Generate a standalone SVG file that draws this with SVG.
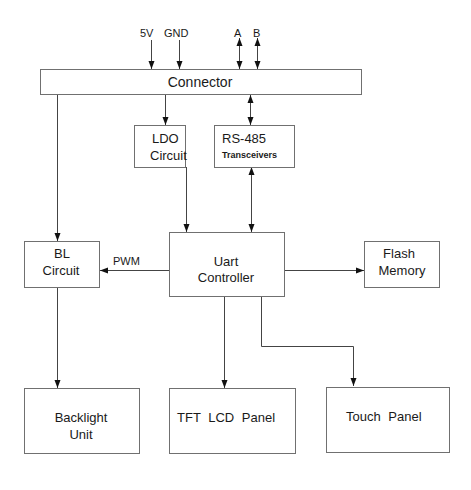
<svg xmlns="http://www.w3.org/2000/svg" width="471" height="490" viewBox="0 0 471 490">
<style>
.box{fill:#fff;stroke:#707070;stroke-width:1}
.ln{fill:none;stroke:#444;stroke-width:1}
text{font-family:"Liberation Sans",Arial,sans-serif;font-size:13px;fill:#1a1a1a}
.c{text-anchor:middle}
.sm{font-size:11px}
.b{font-size:9px;font-weight:bold}
</style>
<defs>
<marker id="ah" viewBox="0 0 8 8" refX="8" refY="4" markerWidth="8" markerHeight="8" markerUnits="userSpaceOnUse" orient="auto-start-reverse">
<path d="M0,1 L8,4 L0,7 Z" fill="#111"/>
</marker>
</defs>
<rect width="471" height="490" fill="#fff"/>
<g id="connectors">
<line class="ln" x1="151.5" y1="40" x2="151.5" y2="69" marker-end="url(#ah)"/>
<line class="ln" x1="179.5" y1="40" x2="179.5" y2="69" marker-end="url(#ah)"/>
<line class="ln" x1="239.5" y1="38" x2="239.5" y2="69" marker-start="url(#ah)" marker-end="url(#ah)"/>
<line class="ln" x1="257.5" y1="38" x2="257.5" y2="69" marker-start="url(#ah)" marker-end="url(#ah)"/>
<line class="ln" x1="57.5" y1="95" x2="57.5" y2="241" marker-end="url(#ah)"/>
<line class="ln" x1="165.5" y1="95" x2="165.5" y2="125" marker-end="url(#ah)"/>
<line class="ln" x1="250.5" y1="95" x2="250.5" y2="125" marker-start="url(#ah)" marker-end="url(#ah)"/>
<line class="ln" x1="186.5" y1="167" x2="186.5" y2="232" marker-end="url(#ah)"/>
<line class="ln" x1="251.5" y1="167" x2="251.5" y2="232" marker-start="url(#ah)" marker-end="url(#ah)"/>
<line class="ln" x1="169" y1="270.5" x2="100" y2="270.5" marker-end="url(#ah)"/>
<line class="ln" x1="284" y1="270.5" x2="364" y2="270.5" marker-end="url(#ah)"/>
<line class="ln" x1="57.5" y1="287" x2="57.5" y2="388" marker-end="url(#ah)"/>
<line class="ln" x1="224.5" y1="296" x2="224.5" y2="388" marker-end="url(#ah)"/>
<polyline class="ln" points="261.5,296 261.5,346.5 353.5,346.5 353.5,386" marker-end="url(#ah)"/>
<text x="113" y="265" class="sm">PWM</text>
<text x="140" y="37" class="sm">5V</text>
<text x="164" y="37" class="sm">GND</text>
<text x="234" y="37" class="sm">A</text>
<text x="253" y="37" class="sm">B</text>
</g>
<g id="connector">
<rect class="box" x="40.5" y="69.5" width="321" height="25"/>
<text x="200" y="87" class="c" style="font-size:14px">Connector</text>
</g>
<g id="ldo">
<rect class="box" x="134.5" y="125.5" width="51" height="42"/>
<text x="152" y="143">LDO</text>
<text x="150" y="160">Circuit</text>
</g>
<g id="rs485">
<rect class="box" x="214.5" y="125.5" width="80" height="42"/>
<text x="222" y="143">RS-485</text>
<text x="222" y="158" class="b">Transceivers</text>
</g>
<g id="bl">
<rect class="box" x="24.5" y="241.5" width="75" height="46"/>
<text x="62" y="258" class="c">BL</text>
<text x="61" y="275" class="c">Circuit</text>
</g>
<g id="uart">
<rect class="box" x="169.5" y="232.5" width="115" height="64"/>
<text x="226" y="266" class="c">Uart</text>
<text x="226" y="282" class="c">Controller</text>
</g>
<g id="flash">
<rect class="box" x="364.5" y="241.5" width="75" height="46"/>
<text x="399" y="258" class="c">Flash</text>
<text x="402" y="275" class="c">Memory</text>
</g>
<g id="backlight">
<rect class="box" x="24.5" y="388.5" width="115" height="65"/>
<text x="81" y="422" class="c">Backlight</text>
<text x="81" y="439" class="c">Unit</text>
</g>
<g id="tft">
<rect class="box" x="169.5" y="388.5" width="126" height="65"/>
<text x="177" y="422" word-spacing="4">TFT LCD Panel</text>
</g>
<g id="touch">
<rect class="box" x="326.5" y="387.5" width="123" height="65"/>
<text x="346" y="421" word-spacing="4">Touch Panel</text>
</g>
</svg>
